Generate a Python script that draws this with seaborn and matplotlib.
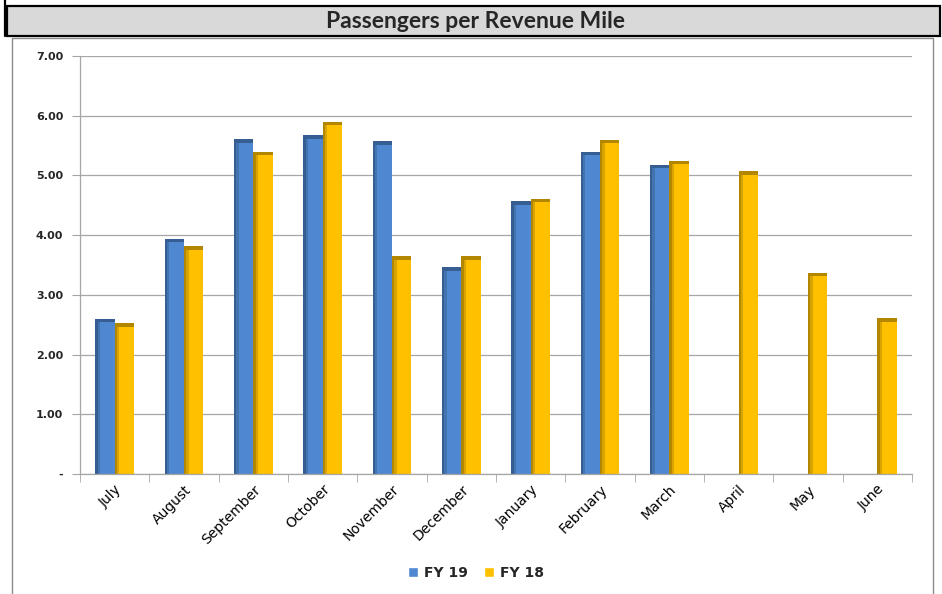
import numpy as np
import pandas as pd
import matplotlib
matplotlib.use("Agg")
import matplotlib.pyplot as plt
import seaborn as sns
from matplotlib.patches import Rectangle
from matplotlib.lines import Line2D

months = ["July", "August", "September", "October", "November", "December",
          "January", "February", "March", "April", "May", "June"]
fy19 = [2.60, 3.94, 5.61, 5.67, 5.57, 3.46, 4.57, 5.40, 5.18, np.nan, np.nan, np.nan]
fy18 = [2.53, 3.81, 5.40, 5.90, 3.65, 3.65, 4.61, 5.60, 5.25, 5.07, 3.37, 2.61]
series = ["FY 19", "FY 18"]
colors = ["#4f87d0", "#ffc000"]
yticks = [0, 1, 2, 3, 4, 5, 6, 7]

df = pd.DataFrame({
    "month": months * 2,
    "value": fy19 + fy18,
    "series": [series[0]] * len(months) + [series[1]] * len(months),
})

sns.set_style("white")
plt.rcParams["font.family"] = ["DejaVu Sans"]

fig = plt.figure(figsize=(9.42, 5.94), dpi=100)
ax = fig.add_axes([80 / 942, 1 - 474 / 594, (912 - 80) / 942, (474 - 56) / 594])

sns.barplot(data=df, x="month", y="value", hue="series", order=months,
            hue_order=series, palette=colors, saturation=1, width=0.56, gap=0,
            ax=ax, legend=False, edgecolor="none")

# darker shading on the left edge and top cap of each bar, for the 3D look
for bar in list(ax.patches):
    x, w, h = bar.get_x(), bar.get_width(), bar.get_height()
    if np.isnan(h) or h == 0:
        continue
    fc = bar.get_facecolor()
    dark = tuple(c * 0.7 for c in fc[:3]) + (1,)
    mid = tuple(c * 0.85 for c in fc[:3]) + (1,)
    ax.add_patch(Rectangle((x, 0), w * 0.12, h, color=dark, lw=0, zorder=bar.get_zorder()))
    ax.add_patch(Rectangle((x + w * 0.12, 0), w * 0.12, h, color=mid, lw=0, zorder=bar.get_zorder()))
    ax.add_patch(Rectangle((x, h - 0.06), w, 0.06, color=dark, lw=0, zorder=bar.get_zorder()))

ax.set_ylim(0, 7)
ax.set_xlim(-0.5, len(months) - 0.5)
ax.set_yticks(yticks)
ax.set_yticklabels(["-"] + [f"{v:.2f}" for v in yticks[1:]], fontsize=8, fontweight="bold")
ax.yaxis.grid(True, color="#a6a6a6", lw=0.9)
ax.set_axisbelow(True)
ax.tick_params(axis="y", length=6, color="#a6a6a6", pad=6, direction="out", left=True)
ax.set_xticks(range(len(months)))
ax.set_xticklabels(months, rotation=45, ha="right", rotation_mode="anchor", fontsize=10, color="black")
ax.tick_params(axis="x", length=0, pad=6)
ax.set_xticks(np.arange(-0.5, len(months)), minor=True)
ax.tick_params(axis="x", which="minor", length=6, color="#a6a6a6", bottom=True)
ax.set_xlabel("")
ax.set_ylabel("")
for s in ["top", "right"]:
    ax.spines[s].set_visible(False)
for s in ["left", "bottom"]:
    ax.spines[s].set_color("#a6a6a6")
    ax.spines[s].set_linewidth(0.9)

# outer chart border
fig.patches.append(Rectangle((12 / 942, -0.01), (933 - 12) / 942, 1 - 38 / 594 + 0.01,
                             transform=fig.transFigure, fill=False, ec="#8c8c8c", lw=1))
# title band
fig.patches.append(Rectangle((7 / 942, 1 - 36 / 594), 1 - 9 / 942, 30 / 594,
                             transform=fig.transFigure, fc="#d9d9d9", ec="black", lw=1.6))
fig.lines.append(Line2D([5 / 942, 5 / 942], [1, 1 - 36 / 594], transform=fig.transFigure,
                        color="black", lw=1.6))
fig.text(476 / 942, 1 - 21 / 594, "Passengers per Revenue Mile", ha="center", va="center",
         fontsize=16.5, fontweight="bold", family=["Lato", "DejaVu Sans"])

handles = [Rectangle((0, 0), 1, 1, fc=c) for c in colors]
fig.legend(handles, series, loc="center", bbox_to_anchor=(476 / 942, 1 - 573 / 594),
           ncol=2, frameon=False, handlelength=0.7, handleheight=0.7, handletextpad=0.4,
           columnspacing=1.2, prop={"weight": "bold", "size": 10})

fig.savefig("out.png", dpi=100)
